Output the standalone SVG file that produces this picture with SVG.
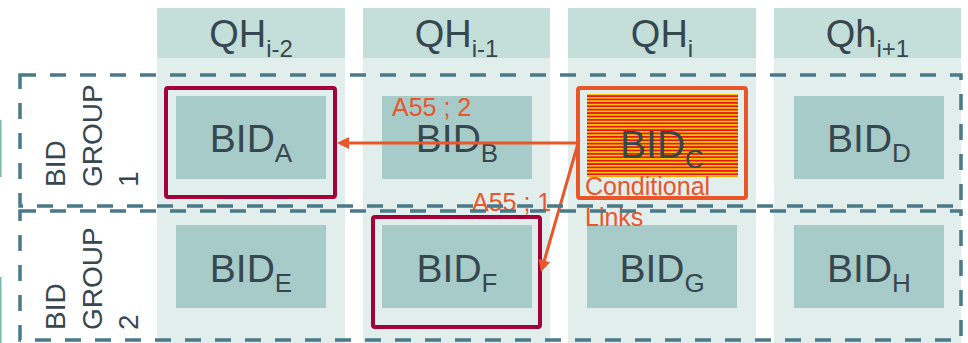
<svg xmlns="http://www.w3.org/2000/svg" width="968" height="343" viewBox="0 0 968 343">
<style>
.col{fill:#e1eeec}
.hdr{fill:#c4dfda}
.cell{fill:#a7cbc8}
.t{font-family:"Liberation Sans",Arial,sans-serif;fill:#37474f}
.h{font-size:38px}
.b{font-size:39px}
.lbl{font-family:"Liberation Sans",Arial,sans-serif;fill:#e8562a;font-size:25px}
.g{font-family:"Liberation Sans",Arial,sans-serif;fill:#37474f;font-size:28px}
.sel{fill:none;stroke:#a3003a;stroke-width:4}
.grp{fill:none;stroke:#4a7a87;stroke-width:3.5;stroke-dasharray:16 14}
.arr{stroke:#e8562a;stroke-width:3;fill:none}
</style>
<defs>
<marker id="ah" markerUnits="userSpaceOnUse" markerWidth="14" markerHeight="14" refX="3" refY="6" orient="auto">
<path d="M0,0 L12,6 L0,12 z" fill="#e8562a"/>
</marker>
<pattern id="stripes" patternUnits="userSpaceOnUse" width="10" height="3.4">
<rect width="10" height="3.4" fill="#ffc400"/>
<rect width="10" height="1.7" fill="#e3141b"/>
</pattern>
</defs>
<rect x="0" y="120" width="1.5" height="57" fill="#7ab8ad"/>
<rect x="0" y="277" width="1.5" height="66" fill="#7ab8ad"/>
<g id="col1">
<rect class="col" x="157" y="58" width="188" height="285"/>
<rect class="hdr" x="157" y="8" width="188" height="50"/>
<text class="t h" x="251" y="47" text-anchor="middle">QH<tspan dy="10" font-size="24">i-2</tspan></text>
</g>
<g id="col2">
<rect class="col" x="363" y="58" width="187" height="285"/>
<rect class="hdr" x="363" y="8" width="187" height="50"/>
<text class="t h" x="456.5" y="47" text-anchor="middle">QH<tspan dy="10" font-size="24">i-1</tspan></text>
</g>
<g id="col3">
<rect class="col" x="568" y="58" width="188" height="285"/>
<rect class="hdr" x="568" y="8" width="188" height="50"/>
<text class="t h" x="662" y="47" text-anchor="middle">QH<tspan dy="10" font-size="24">i</tspan></text>
</g>
<g id="col4">
<rect class="col" x="774" y="58" width="187" height="285"/>
<rect class="hdr" x="774" y="8" width="187" height="50"/>
<text class="t h" x="867.5" y="47" text-anchor="middle">Qh<tspan dy="10" font-size="24">i+1</tspan></text>
</g>
<g id="bidA">
<rect class="cell" x="176" y="96" width="150" height="83"/>
<text class="t b" x="251" y="152" text-anchor="middle">BID<tspan dy="10" font-size="26">A</tspan></text>
</g>
<g id="bidB">
<rect class="cell" x="382" y="96" width="150" height="83"/>
<text class="t b" x="457" y="152" text-anchor="middle">BID<tspan dy="10" font-size="26">B</tspan></text>
</g>
<g id="bidC">
<rect x="587" y="94" width="151" height="83" fill="url(#stripes)"/>
<text class="t b" x="662" y="158" text-anchor="middle">BID<tspan dy="10" font-size="26">C</tspan></text>
</g>
<g id="bidD">
<rect class="cell" x="794" y="96" width="150" height="83"/>
<text class="t b" x="869" y="152" text-anchor="middle">BID<tspan dy="10" font-size="26">D</tspan></text>
</g>
<g id="bidE">
<rect class="cell" x="176" y="225" width="150" height="83"/>
<text class="t b" x="251" y="282" text-anchor="middle">BID<tspan dy="10" font-size="26">E</tspan></text>
</g>
<g id="bidF">
<rect class="cell" x="382" y="225" width="150" height="83"/>
<text class="t b" x="457" y="282" text-anchor="middle">BID<tspan dy="10" font-size="26">F</tspan></text>
</g>
<g id="bidG">
<rect class="cell" x="587" y="225" width="150" height="83"/>
<text class="t b" x="662" y="282" text-anchor="middle">BID<tspan dy="10" font-size="26">G</tspan></text>
</g>
<g id="bidH">
<rect class="cell" x="794" y="225" width="150" height="83"/>
<text class="t b" x="869" y="282" text-anchor="middle">BID<tspan dy="10" font-size="26">H</tspan></text>
</g>
<g id="selA"><rect class="sel" x="166" y="88" width="169" height="109" rx="2"/></g>
<g id="selF"><rect class="sel" x="373" y="217" width="167" height="110" rx="2"/></g>
<g id="condC">
<rect x="578" y="88" width="168" height="110" rx="2" fill="none" stroke="#e8562a" stroke-width="4"/>
<text class="lbl" x="585" y="195">Conditional</text>
<text class="lbl" x="585" y="226">Links</text>
</g>
<g id="connectors">
<line class="arr" x1="578" y1="143" x2="346" y2="143" marker-end="url(#ah)"/>
<line class="arr" x1="579" y1="140" x2="543.5" y2="263.4" marker-end="url(#ah)"/>
<text class="lbl" x="392" y="116">A55 ; 2</text>
<text class="lbl" x="472" y="211">A55 ; 1</text>
</g>
<g id="group1">
<rect class="grp" x="20" y="75" width="941" height="131"/>
<text class="g" transform="translate(65,187) rotate(-90)">BID</text>
<text class="g" transform="translate(102,187) rotate(-90)">GROUP</text>
<text class="g" transform="translate(138,187) rotate(-90)">1</text>
</g>
<g id="group2">
<rect class="grp" x="20" y="211" width="941" height="129"/>
<text class="g" transform="translate(65,330) rotate(-90)">BID</text>
<text class="g" transform="translate(102,330) rotate(-90)">GROUP</text>
<text class="g" transform="translate(138,330) rotate(-90)">2</text>
</g>
</svg>
